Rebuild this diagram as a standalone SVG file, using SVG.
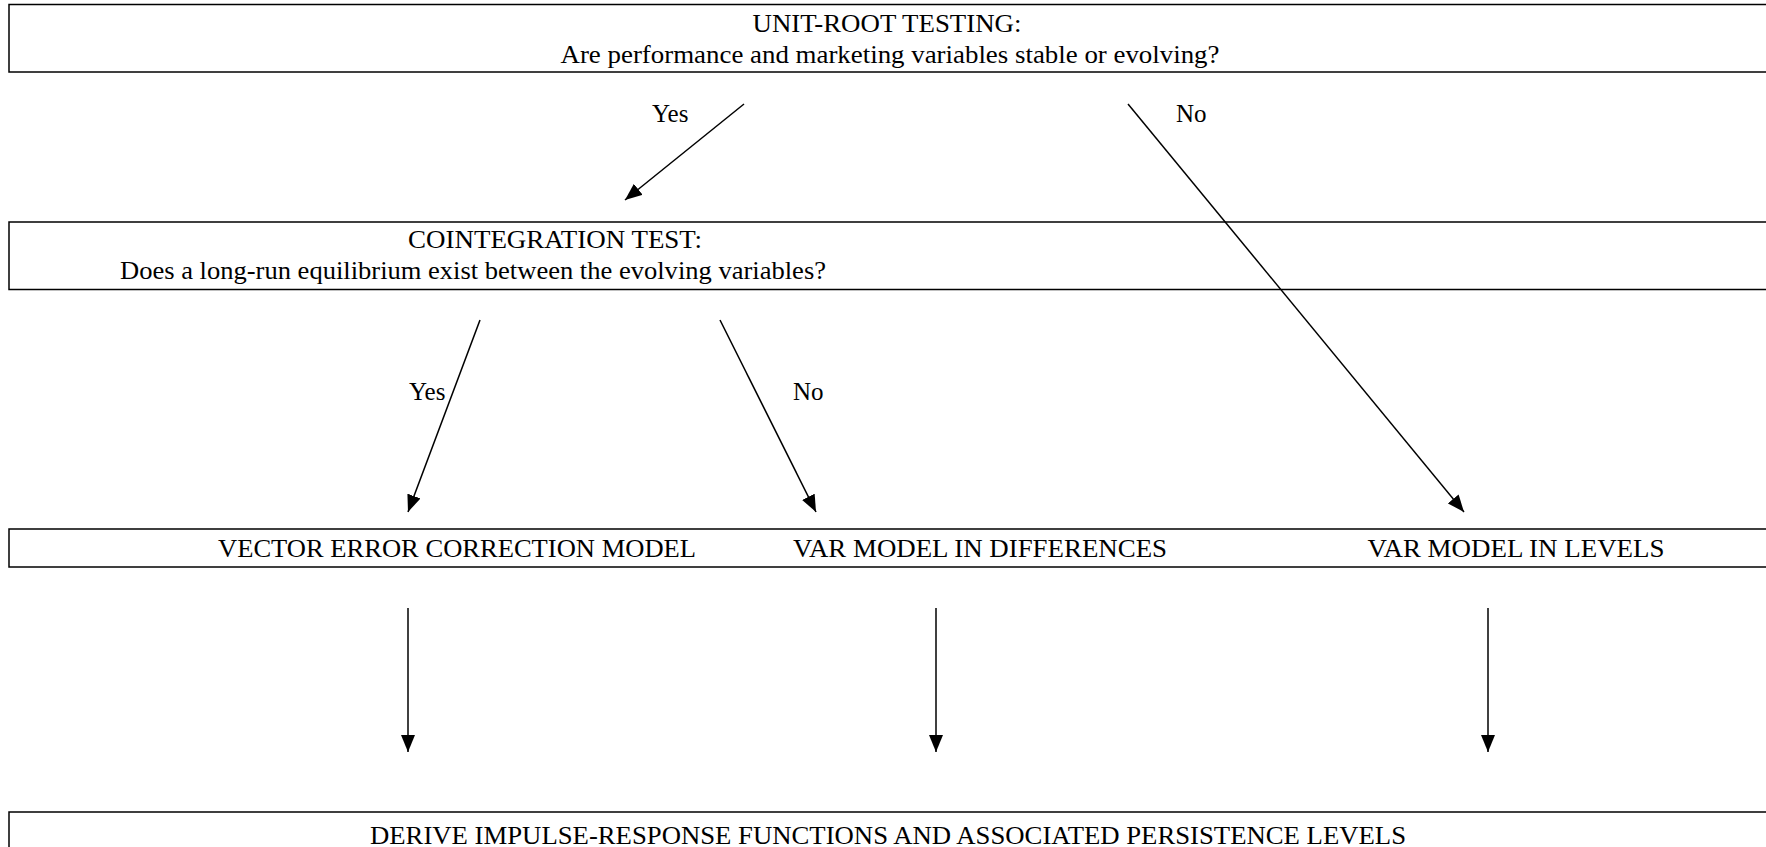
<svg xmlns="http://www.w3.org/2000/svg" width="1766" height="847" viewBox="0 0 1766 847">
<style>
.box{fill:#fff;stroke:#000;stroke-width:1.5}
.t{font-family:"Liberation Serif","Times New Roman",serif;font-size:26px;fill:#000;text-anchor:middle}
.lbl{font-family:"Liberation Serif","Times New Roman",serif;font-size:25px;fill:#000}
.c{stroke:#000;stroke-width:1.5;fill:none;marker-end:url(#ah)}
</style>
<defs>
<marker id="ah" markerUnits="userSpaceOnUse" markerWidth="18" markerHeight="14" refX="17" refY="7" orient="auto">
<path d="M0,0 L17,7 L0,14 z" fill="#000"/>
</marker>
</defs>
<rect width="1766" height="847" fill="#fff"/>
<g id="unit-root">
<rect class="box" x="9" y="4.5" width="1780" height="67.5"/>
<text class="t" x="887" y="31.5" textLength="269" lengthAdjust="spacingAndGlyphs">UNIT-ROOT TESTING:</text>
<text class="t" x="890" y="63" textLength="659" lengthAdjust="spacingAndGlyphs">Are performance and marketing variables stable or evolving?</text>
</g>
<g id="cointegration">
<rect class="box" x="9" y="222" width="1780" height="67.5"/>
<text class="t" x="555" y="248" textLength="294" lengthAdjust="spacingAndGlyphs">COINTEGRATION TEST:</text>
<text class="t" x="473" y="278.5" textLength="706" lengthAdjust="spacingAndGlyphs">Does a long-run equilibrium exist between the evolving variables?</text>
</g>
<g id="models">
<rect class="box" x="9" y="529" width="1780" height="38"/>
<text class="t" x="457" y="557" textLength="478" lengthAdjust="spacingAndGlyphs">VECTOR ERROR CORRECTION MODEL</text>
<text class="t" x="980" y="557" textLength="374" lengthAdjust="spacingAndGlyphs">VAR MODEL IN DIFFERENCES</text>
<text class="t" x="1516" y="557" textLength="297" lengthAdjust="spacingAndGlyphs">VAR MODEL IN LEVELS</text>
</g>
<g id="impulse-response">
<rect class="box" x="9" y="812" width="1780" height="60"/>
<text class="t" x="888" y="843.5" textLength="1036" lengthAdjust="spacingAndGlyphs">DERIVE IMPULSE-RESPONSE FUNCTIONS AND ASSOCIATED PERSISTENCE LEVELS</text>
</g>
<g id="connectors">
<line class="c" x1="744" y1="104" x2="625" y2="200"/>
<line class="c" x1="1128" y1="104" x2="1464" y2="512"/>
<line class="c" x1="480" y1="320" x2="408" y2="512"/>
<line class="c" x1="720" y1="320" x2="816" y2="512"/>
<line class="c" x1="408" y1="608" x2="408" y2="752"/>
<line class="c" x1="936" y1="608" x2="936" y2="752"/>
<line class="c" x1="1488" y1="608" x2="1488" y2="752"/>
<text class="lbl" x="652" y="122">Yes</text>
<text class="lbl" x="1176" y="122">No</text>
<text class="lbl" x="409" y="400">Yes</text>
<text class="lbl" x="793" y="400">No</text>
</g>
</svg>
